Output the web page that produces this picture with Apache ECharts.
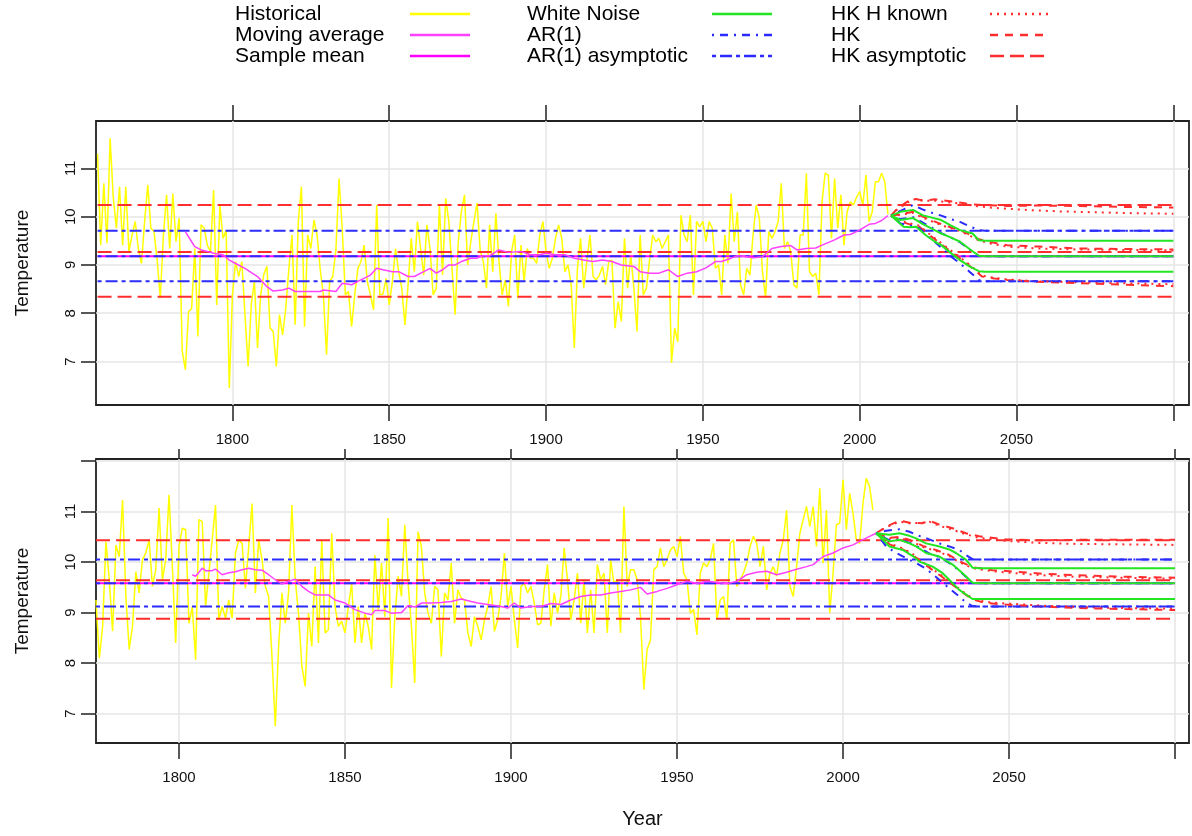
<!DOCTYPE html>
<html>
<head>
<meta charset="utf-8">
<title>Temperature forecasts</title>
<script src="https://cdn.jsdelivr.net/npm/echarts@6/dist/echarts.min.js"></script>
<style>
  html, body { margin: 0; padding: 0; background: #fff; }
  #chart { width: 1192px; height: 836px; }
</style>
</head>
<body>
<div id="chart"></div>
<script>
// ---------- values ----------
const endYear = 2100;

// tick labels
const xTickValues = [1800, 1850, 1900, 1950, 2000, 2050, 2100];
const xLabelValues = [1800, 1850, 1900, 1950, 2000, 2050];
const yTickTop = [7, 8, 9, 10, 11];
const yTickBottom = [7, 8, 9, 10, 11, 12];
const yLabelValues = [7, 8, 9, 10, 11];

// upper panel
const topStartYear = 1757;
const topHistorical = [
  11.30, 9.41, 10.69, 9.45, 11.62, 10.40, 9.76, 10.62, 9.41, 10.62,
  9.28, 9.62, 9.90, 9.34, 9.03, 9.90, 10.66, 9.76, 9.69, 9.10,
  8.31, 9.62, 10.45, 9.34, 10.48, 9.48, 9.97, 7.21, 6.83, 8.03,
  8.10, 9.34, 7.52, 9.83, 9.76, 9.41, 9.28, 10.55, 8.17, 10.24,
  9.55, 9.72, 6.45, 8.38, 9.07, 8.76, 9.07, 7.97, 6.90, 8.17,
  8.66, 7.28, 8.38, 8.80, 8.97, 7.69, 7.62, 6.90, 7.97, 7.55,
  8.10, 8.93, 9.62, 7.76, 9.90, 10.62, 7.72, 9.62, 9.34, 9.93,
  9.62, 8.90, 8.38, 7.14, 8.66, 8.76, 9.31, 10.79, 9.76, 8.38,
  8.45, 7.72, 8.38, 8.93, 9.07, 9.41, 8.66, 8.38, 8.07, 10.24,
  8.38, 8.40, 8.72, 8.17, 8.66, 9.34, 8.86, 8.52, 7.76, 8.59,
  9.55, 8.86, 9.90, 9.34, 8.79, 9.83, 9.34, 8.38, 8.52, 10.24,
  8.79, 10.38, 9.90, 8.93, 7.97, 9.48, 10.10, 10.45, 9.00, 9.48,
  9.90, 10.28, 9.30, 9.07, 8.52, 9.83, 8.86, 10.07, 9.07, 8.38,
  8.69, 8.14, 9.28, 9.62, 8.31, 9.41, 8.66, 9.34, 9.14, 9.14,
  9.03, 9.62, 9.90, 9.28, 8.93, 9.14, 9.55, 9.83, 9.55, 8.86,
  9.00, 8.60, 7.28, 8.93, 9.55, 8.52, 9.07, 9.62, 8.76, 8.69,
  8.79, 8.97, 8.59, 9.07, 9.10, 7.69, 8.24, 7.83, 9.55, 8.52,
  9.21, 8.52, 7.62, 9.62, 8.38, 8.52, 9.10, 9.62, 9.48, 9.55,
  9.34, 9.48, 9.62, 6.97, 7.69, 7.41, 10.03, 9.62, 9.48, 10.03,
  8.38, 9.90, 9.79, 9.90, 9.48, 9.90, 9.76, 8.93, 9.00, 8.38,
  9.62, 9.03, 10.48, 9.48, 10.10, 8.59, 8.38, 8.93, 8.79, 9.62,
  10.24, 9.97, 8.86, 8.31, 9.69, 9.55, 9.69, 9.90, 10.69, 9.34,
  9.48, 9.28, 8.59, 8.52, 9.62, 9.62, 10.90, 8.86, 8.76, 8.83,
  8.38, 10.31, 10.90, 10.86, 9.55, 10.79, 9.76, 10.45, 9.41, 10.10,
  10.31, 10.24, 10.40, 10.52, 10.24, 10.86, 9.90, 10.10, 10.72, 10.72,
  10.90, 10.72, 10.05
];
const topMovingAvg = [
  [1785, 9.69], [1787, 9.48], [1788, 9.38], [1790, 9.31], [1792, 9.28], [1794, 9.24],
  [1797, 9.21], [1799, 9.10], [1801, 9.03], [1804, 8.93], [1808, 8.76], [1811, 8.55],
  [1813, 8.46], [1816, 8.48], [1818, 8.52], [1820, 8.45], [1822, 8.45], [1825, 8.45],
  [1828, 8.45], [1829, 8.48], [1833, 8.45], [1835, 8.62], [1838, 8.59], [1840, 8.66],
  [1844, 8.79], [1846, 8.93], [1848, 8.90], [1851, 8.86], [1853, 8.86], [1856, 8.76],
  [1858, 8.76], [1861, 8.86], [1863, 8.93], [1865, 8.83], [1867, 8.90], [1869, 9.00],
  [1871, 9.00], [1873, 9.07], [1876, 9.14], [1878, 9.14], [1880, 9.19], [1882, 9.19],
  [1885, 9.31], [1888, 9.26], [1892, 9.28], [1895, 9.21], [1898, 9.21], [1900, 9.24],
  [1903, 9.21], [1906, 9.21], [1909, 9.14], [1912, 9.10], [1915, 9.07], [1918, 9.10],
  [1921, 9.07], [1924, 9.00], [1928, 8.97], [1930, 8.86], [1933, 8.83], [1936, 8.83],
  [1939, 8.90], [1942, 8.76], [1945, 8.83], [1948, 8.86], [1951, 8.94], [1954, 9.07],
  [1956, 9.07], [1959, 9.14], [1961, 9.19], [1964, 9.17], [1966, 9.15], [1969, 9.17],
  [1972, 9.34], [1975, 9.38], [1978, 9.40], [1980, 9.31], [1983, 9.34], [1986, 9.35],
  [1988, 9.41], [1992, 9.52], [1995, 9.62], [1997, 9.63], [1999, 9.69], [2001, 9.76],
  [2003, 9.84], [2005, 9.86], [2007, 9.92], [2009, 10.02]
];
const topSampleMean = 9.18;
const topHkAsymptotic = [10.24, 9.27, 8.34];
const topAr1Asymptotic = [9.71, 9.18, 8.66];
const topWhiteNoise = [
  [[2010, 10.02], [2013, 10.10], [2017, 10.14], [2020, 10.03], [2023, 9.98], [2026, 9.93], [2029, 9.82], [2032, 9.72], [2036, 9.65], [2038, 9.51], [2040, 9.50], [2100, 9.50]],
  [[2010, 10.02], [2013, 9.93], [2015, 9.95], [2017, 9.97], [2020, 9.85], [2023, 9.75], [2026, 9.65], [2029, 9.57], [2032, 9.48], [2035, 9.33], [2038, 9.19], [2040, 9.18], [2100, 9.18]],
  [[2010, 10.02], [2014, 9.79], [2016, 9.78], [2018, 9.79], [2021, 9.62], [2024, 9.48], [2026, 9.41], [2029, 9.25], [2032, 9.10], [2035, 8.97], [2038, 8.87], [2040, 8.86], [2100, 8.86]]
];
const topAr1 = [
  [[2010, 10.02], [2013, 10.12], [2017, 10.24], [2020, 10.15], [2023, 10.08], [2026, 10.02], [2029, 9.95], [2032, 9.89], [2035, 9.80], [2038, 9.72], [2040, 9.71], [2100, 9.71]],
  [[2010, 10.02], [2013, 9.95], [2017, 9.99], [2020, 9.88], [2023, 9.77], [2026, 9.66], [2029, 9.57], [2032, 9.47], [2035, 9.32], [2038, 9.19], [2040, 9.18], [2100, 9.18]],
  [[2010, 10.02], [2013, 9.86], [2015, 9.83], [2017, 9.80], [2019, 9.76], [2022, 9.58], [2026, 9.36], [2029, 9.18], [2032, 9.03], [2035, 8.86], [2038, 8.69], [2040, 8.66], [2100, 8.66]]
];
const topHk = [
  [[2010, 10.02], [2012, 10.17], [2015, 10.30], [2017, 10.38], [2019, 10.35], [2021, 10.33], [2024, 10.36], [2026, 10.34], [2030, 10.31], [2033, 10.28], [2036, 10.25], [2040, 10.24], [2047, 10.22], [2057, 10.23], [2070, 10.22], [2085, 10.20], [2100, 10.19]],
  [[2010, 10.02], [2013, 10.05], [2017, 10.10], [2019, 10.03], [2022, 9.95], [2025, 9.87], [2028, 9.80], [2032, 9.72], [2035, 9.63], [2038, 9.53], [2042, 9.47], [2047, 9.41], [2057, 9.38], [2070, 9.34], [2085, 9.33], [2100, 9.32]],
  [[2010, 10.02], [2013, 9.90], [2016, 9.84], [2019, 9.79], [2022, 9.63], [2025, 9.48], [2028, 9.33], [2032, 9.14], [2036, 8.93], [2039, 8.76], [2043, 8.72], [2047, 8.69], [2057, 8.65], [2070, 8.62], [2085, 8.59], [2100, 8.56]]
];
const topHkKnown = [
  [[2010, 10.02], [2012, 10.15], [2015, 10.28], [2017, 10.36], [2020, 10.33], [2024, 10.33], [2028, 10.30], [2032, 10.27], [2038, 10.21], [2045, 10.17], [2053, 10.14], [2063, 10.11], [2075, 10.09], [2088, 10.07], [2100, 10.06]],
  [[2010, 10.02], [2013, 10.04], [2017, 10.08], [2019, 10.01], [2022, 9.93], [2025, 9.85], [2028, 9.78], [2032, 9.70], [2035, 9.61], [2038, 9.51], [2042, 9.44], [2047, 9.38], [2057, 9.34], [2070, 9.32], [2085, 9.31], [2100, 9.30]],
  [[2010, 10.02], [2013, 9.92], [2016, 9.86], [2019, 9.81], [2022, 9.65], [2025, 9.50], [2028, 9.35], [2032, 9.16], [2036, 8.95], [2039, 8.78], [2043, 8.73], [2047, 8.70], [2057, 8.66], [2070, 8.64], [2085, 8.62], [2100, 8.60]]
];

// lower panel
const bottomStartYear = 1775;
const bottomHistorical = [
  9.25, 8.10, 8.73, 10.40, 9.65, 8.63, 10.34, 10.11, 11.23, 9.32,
  8.27, 8.73, 9.81, 9.39, 10.05, 10.18, 10.44, 9.52, 9.85, 11.07,
  9.65, 10.05, 11.33, 9.91, 8.40, 10.31, 10.67, 10.64, 8.79, 9.12,
  8.07, 10.84, 10.80, 9.12, 9.78, 10.44, 11.13, 8.86, 9.12, 8.89,
  9.25, 8.89, 10.18, 10.44, 10.37, 9.48, 10.31, 11.16, 9.39, 10.44,
  10.05, 9.52, 9.32, 8.13, 6.75, 8.33, 9.39, 8.79, 9.39, 11.13,
  9.65, 8.99, 7.94, 7.54, 8.99, 8.33, 9.91, 8.40, 10.44, 8.60,
  8.66, 10.57, 9.12, 8.73, 8.83, 8.60, 9.12, 9.58, 8.40, 9.12,
  8.40, 8.99, 8.73, 8.27, 10.14, 9.06, 9.98, 8.92, 10.87, 7.51,
  8.92, 9.72, 9.32, 10.74, 9.58, 8.73, 7.61, 10.60, 10.31, 9.39,
  8.99, 8.79, 9.52, 9.45, 8.13, 9.39, 9.25, 9.98, 8.79, 9.45,
  9.29, 9.25, 8.60, 8.33, 8.92, 8.73, 8.46, 8.86, 9.12, 9.52,
  8.63, 8.86, 9.32, 10.18, 9.12, 9.52, 8.86, 8.30, 9.52, 9.58,
  9.39, 9.52, 9.19, 8.76, 8.79, 9.45, 9.95, 8.73, 9.39, 8.99,
  9.32, 10.28, 9.65, 8.86, 9.25, 9.78, 8.79, 9.65, 8.60, 9.45,
  8.60, 9.95, 9.65, 9.78, 8.60, 10.05, 9.58, 9.65, 8.60, 11.10,
  9.52, 9.85, 9.85, 9.65, 8.92, 7.48, 8.27, 8.46, 9.85, 9.91,
  10.28, 9.91, 10.05, 10.24, 10.31, 10.11, 10.51, 9.78, 9.65, 8.99,
  9.06, 8.56, 9.78, 9.98, 9.91, 10.05, 10.37, 8.86, 9.25, 9.32,
  8.86, 10.37, 10.44, 9.52, 9.65, 9.78, 9.98, 10.31, 10.51, 10.37,
  9.91, 10.31, 9.45, 9.78, 9.91, 9.72, 10.18, 10.44, 11.03, 9.52,
  9.32, 9.91, 10.57, 10.84, 11.10, 10.70, 11.10, 10.31, 11.46, 9.98,
  11.03, 8.99, 9.78, 10.74, 10.77, 11.63, 10.64, 11.36, 10.97, 10.44,
  10.37, 11.16, 11.66, 11.49, 11.03
];
const bottomMovingAvg = [
  [1804, 9.75], [1805, 9.72], [1807, 9.88], [1808, 9.83], [1810, 9.83], [1811, 9.86],
  [1813, 9.75], [1815, 9.79], [1817, 9.81], [1819, 9.85], [1821, 9.88], [1823, 9.85],
  [1825, 9.84], [1827, 9.75], [1829, 9.65], [1831, 9.57], [1833, 9.62], [1835, 9.66],
  [1837, 9.52], [1839, 9.42], [1841, 9.35], [1845, 9.35], [1847, 9.25], [1850, 9.19],
  [1853, 9.06], [1856, 8.99], [1858, 8.96], [1859, 9.04], [1862, 9.04], [1864, 8.99],
  [1867, 9.00], [1869, 9.14], [1871, 9.11], [1873, 9.19], [1876, 9.19], [1879, 9.20],
  [1882, 9.22], [1885, 9.27], [1888, 9.22], [1890, 9.19], [1893, 9.16], [1897, 9.12],
  [1899, 9.09], [1901, 9.19], [1903, 9.09], [1906, 9.12], [1909, 9.12], [1912, 9.18],
  [1915, 9.16], [1918, 9.25], [1921, 9.32], [1924, 9.35], [1927, 9.35], [1930, 9.39],
  [1933, 9.42], [1936, 9.45], [1939, 9.50], [1941, 9.37], [1944, 9.42], [1947, 9.48],
  [1950, 9.55], [1953, 9.62], [1956, 9.58], [1959, 9.62], [1962, 9.60], [1965, 9.57],
  [1968, 9.62], [1971, 9.75], [1974, 9.80], [1977, 9.82], [1980, 9.75], [1983, 9.80],
  [1986, 9.86], [1989, 9.91], [1991, 9.95], [1994, 10.11], [1997, 10.18], [2000, 10.28],
  [2003, 10.34], [2005, 10.41], [2008, 10.51], [2010, 10.57]
];
const bottomSampleMean = 9.58;
const bottomHkAsymptotic = [10.43, 9.64, 8.88];
const bottomAr1Asymptotic = [10.05, 9.58, 9.12];
const bottomWhiteNoise = [
  [[2010, 10.57], [2014, 10.54], [2017, 10.57], [2020, 10.52], [2022, 10.47], [2025, 10.37], [2029, 10.31], [2032, 10.25], [2034, 10.18], [2037, 10.05], [2039, 9.89], [2041, 9.88], [2100, 9.88]],
  [[2010, 10.57], [2014, 10.41], [2017, 10.44], [2020, 10.37], [2022, 10.31], [2025, 10.18], [2029, 10.11], [2033, 9.95], [2036, 9.78], [2039, 9.59], [2041, 9.58], [2100, 9.58]],
  [[2010, 10.57], [2014, 10.31], [2018, 10.24], [2021, 10.12], [2023, 10.01], [2027, 9.91], [2030, 9.78], [2032, 9.65], [2035, 9.45], [2039, 9.27], [2041, 9.27], [2100, 9.27]]
];
const bottomAr1 = [
  [[2010, 10.57], [2013, 10.62], [2017, 10.65], [2020, 10.60], [2022, 10.54], [2026, 10.45], [2029, 10.37], [2032, 10.31], [2035, 10.24], [2037, 10.14], [2039, 10.06], [2041, 10.05], [2100, 10.05]],
  [[2010, 10.57], [2014, 10.43], [2017, 10.45], [2020, 10.38], [2023, 10.29], [2026, 10.17], [2029, 10.10], [2033, 9.94], [2036, 9.77], [2039, 9.59], [2041, 9.58], [2100, 9.58]],
  [[2010, 10.57], [2013, 10.31], [2016, 10.18], [2019, 10.08], [2022, 9.98], [2025, 9.87], [2029, 9.65], [2032, 9.48], [2035, 9.32], [2037, 9.20], [2039, 9.13], [2041, 9.12], [2100, 9.12]]
];
const bottomHk = [
  [[2010, 10.57], [2013, 10.70], [2017, 10.82], [2020, 10.78], [2024, 10.77], [2026, 10.82], [2029, 10.74], [2033, 10.67], [2037, 10.57], [2041, 10.51], [2049, 10.45], [2059, 10.43], [2070, 10.44], [2085, 10.44], [2100, 10.44]],
  [[2010, 10.57], [2014, 10.48], [2017, 10.50], [2021, 10.42], [2024, 10.32], [2028, 10.24], [2032, 10.14], [2035, 10.02], [2039, 9.90], [2045, 9.84], [2050, 9.82], [2060, 9.77], [2070, 9.74], [2085, 9.71], [2100, 9.69]],
  [[2010, 10.57], [2014, 10.35], [2018, 10.25], [2021, 10.14], [2024, 9.98], [2027, 9.84], [2030, 9.70], [2033, 9.55], [2036, 9.40], [2039, 9.26], [2043, 9.19], [2049, 9.16], [2060, 9.12], [2071, 9.09], [2085, 9.07], [2100, 9.05]]
];
const bottomHkKnown = [
  [[2010, 10.57], [2013, 10.69], [2017, 10.80], [2020, 10.77], [2024, 10.78], [2026, 10.80], [2029, 10.72], [2033, 10.64], [2037, 10.55], [2041, 10.48], [2049, 10.42], [2059, 10.38], [2070, 10.36], [2085, 10.35], [2100, 10.34]],
  [[2010, 10.57], [2014, 10.47], [2017, 10.48], [2021, 10.40], [2024, 10.30], [2028, 10.22], [2032, 10.12], [2035, 10.00], [2039, 9.88], [2045, 9.82], [2050, 9.79], [2060, 9.74], [2070, 9.71], [2085, 9.69], [2100, 9.67]],
  [[2010, 10.57], [2014, 10.37], [2018, 10.27], [2021, 10.16], [2024, 10.00], [2027, 9.86], [2030, 9.72], [2033, 9.57], [2036, 9.42], [2039, 9.28], [2043, 9.21], [2049, 9.18], [2060, 9.14], [2071, 9.11], [2085, 9.09], [2100, 9.08]]
];

// ---------- styling ----------
const FONT = '"Liberation Sans", Arial, Helvetica, sans-serif';
const C = {
  hist: '#ffff00', ma: '#ff40ff', mean: '#ff00ff',
  wn: '#22e622', ar: '#2b2bff', hk: '#ff2d2d'
};
const DASH = {
  solid: 'solid',
  longdash: [14, 6],
  dashed: [8, 7],
  dotted: [2, 5],
  dotdash: [2, 6, 8, 6],
  twodash: [4, 4, 12, 4]
};

const legendItems = [
  { name: 'Historical', color: C.hist, dash: DASH.solid, col: 0 },
  { name: 'Moving average', color: C.ma, dash: DASH.solid, col: 0 },
  { name: 'Sample mean', color: C.mean, dash: DASH.solid, col: 0 },
  { name: 'White Noise', color: C.wn, dash: DASH.solid, col: 1 },
  { name: 'AR(1)', color: C.ar, dash: DASH.dotdash, col: 1 },
  { name: 'AR(1) asymptotic', color: C.ar, dash: DASH.twodash, col: 1 },
  { name: 'HK H known', color: C.hk, dash: DASH.dotted, col: 2 },
  { name: 'HK', color: C.hk, dash: DASH.dashed, col: 2 },
  { name: 'HK asymptotic', color: C.hk, dash: DASH.longdash, col: 2 }
];
const legendCols = [
  { textX: 235, lineX: 410 },
  { textX: 527, lineX: 712 },
  { textX: 831, lineX: 990 }
];

function yearSeries(start, values) {
  return values.map((v, i) => [start + i, v]);
}

function lineSeries(name, data, panel, color, width, dash) {
  return {
    name: name,
    type: 'line',
    xAxisIndex: panel === 0 ? 0 : 2,
    yAxisIndex: panel,
    data: data,
    symbol: 'none',
    silent: true,
    lineStyle: { color: color, width: width, type: dash }
  };
}

function panelSeries(panel, p) {
  const list = [];
  list.push(lineSeries('Historical', yearSeries(p.start, p.hist), panel, C.hist, 1.5, DASH.solid));
  p.hkAsym.forEach(v => list.push(lineSeries('HK asymptotic', [[p.start, v], [endYear, v]], panel, C.hk, 2, DASH.longdash)));
  list.push(lineSeries('Sample mean', [[p.start, p.mean], [endYear, p.mean]], panel, C.mean, 2, DASH.solid));
  p.arAsym.forEach(v => list.push(lineSeries('AR(1) asymptotic', [[p.start, v], [endYear, v]], panel, C.ar, 2, DASH.twodash)));
  list.push(lineSeries('Moving average', p.ma, panel, C.ma, 1.5, DASH.solid));
  p.hkKnown.forEach(d => list.push(lineSeries('HK H known', d, panel, C.hk, 2, DASH.dotted)));
  p.hk.forEach(d => list.push(lineSeries('HK', d, panel, C.hk, 2, DASH.dashed)));
  p.ar.forEach(d => list.push(lineSeries('AR(1)', d, panel, C.ar, 2, DASH.dotdash)));
  p.wn.forEach(d => list.push(lineSeries('White Noise', d, panel, C.wn, 2, DASH.solid)));
  return list;
}

const series = [].concat(
  panelSeries(0, {
    start: topStartYear, hist: topHistorical, ma: topMovingAvg, mean: topSampleMean,
    hkAsym: topHkAsymptotic, arAsym: topAr1Asymptotic,
    wn: topWhiteNoise, ar: topAr1, hk: topHk, hkKnown: topHkKnown
  }),
  panelSeries(1, {
    start: bottomStartYear, hist: bottomHistorical, ma: bottomMovingAvg, mean: bottomSampleMean,
    hkAsym: bottomHkAsymptotic, arAsym: bottomAr1Asymptotic,
    wn: bottomWhiteNoise, ar: bottomAr1, hk: bottomHk, hkKnown: bottomHkKnown
  })
);

// legend drawn as graphic so text and sample sit in fixed columns
const legendGraphic = [];
legendItems.forEach((it, i) => {
  const row = i % 3;
  const col = legendCols[it.col];
  const y = 14 + row * 21;
  legendGraphic.push({
    type: 'text', x: col.textX, y: y, silent: true,
    style: { text: it.name, fill: '#000', fontSize: 21, fontFamily: FONT, verticalAlign: 'middle' }
  });
  legendGraphic.push({
    type: 'line', silent: true,
    shape: { x1: col.lineX, y1: y, x2: col.lineX + 60, y2: y },
    style: { stroke: it.color, lineWidth: 2.5, lineDash: it.dash === 'solid' ? null : it.dash }
  });
});

function xAxisDef(grid, position, min, max, opts) {
  return {
    type: 'value', gridIndex: grid, position: position, min: min, max: max,
    axisLine: { show: false },
    axisTick: { show: true, length: opts.tickLen, customValues: xTickValues, lineStyle: { color: '#222', width: 1.5 } },
    axisLabel: {
      show: opts.labels, customValues: xLabelValues, margin: 27,
      formatter: v => String(v),
      color: '#111', fontSize: 15, fontFamily: FONT
    },
    splitLine: { show: opts.split, lineStyle: { color: '#e6e6e6', width: 1.5 } },
    name: opts.name || '', nameLocation: 'middle', nameGap: 66,
    nameTextStyle: { color: '#111', fontSize: 20, fontFamily: FONT }
  };
}

function yAxisDef(grid, min, max, ticks) {
  return {
    type: 'value', gridIndex: grid, position: 'left', min: min, max: max,
    axisLine: { show: false },
    axisTick: { show: true, length: 15, customValues: ticks, lineStyle: { color: '#222', width: 1.5 } },
    axisLabel: {
      customValues: yLabelValues, rotate: 90, margin: 18,
      formatter: v => String(v),
      color: '#111', fontSize: 15, fontFamily: FONT
    },
    splitLine: { show: true, lineStyle: { color: '#e6e6e6', width: 1.5 } },
    name: 'Temperature', nameLocation: 'middle', nameGap: 64,
    nameTextStyle: { color: '#111', fontSize: 19, fontFamily: FONT }
  };
}

const chart = echarts.init(document.getElementById('chart'), null, { renderer: 'canvas' });
chart.setOption({
  backgroundColor: '#fff',
  animation: false,
  textStyle: { fontFamily: FONT },
  grid: [
    { left: 96, top: 121, width: 1093, height: 284, show: true, borderColor: '#222', borderWidth: 1.8, backgroundColor: 'transparent' },
    { left: 96, top: 459, width: 1093, height: 284, show: true, borderColor: '#222', borderWidth: 1.8, backgroundColor: 'transparent' }
  ],
  xAxis: [
    xAxisDef(0, 'bottom', 1756.5, 2105, { tickLen: 16, labels: true, split: true }),
    xAxisDef(0, 'top', 1756.5, 2105, { tickLen: 16, labels: false, split: false }),
    xAxisDef(1, 'bottom', 1775, 2104.2, { tickLen: 16, labels: true, split: true, name: 'Year' }),
    xAxisDef(1, 'top', 1775, 2104.2, { tickLen: 10, labels: false, split: false })
  ],
  yAxis: [
    yAxisDef(0, 6.1, 11.98, yTickTop),
    yAxisDef(1, 6.42, 12.04, yTickBottom)
  ],
  graphic: legendGraphic,
  series: series
});
</script>
</body>
</html>
